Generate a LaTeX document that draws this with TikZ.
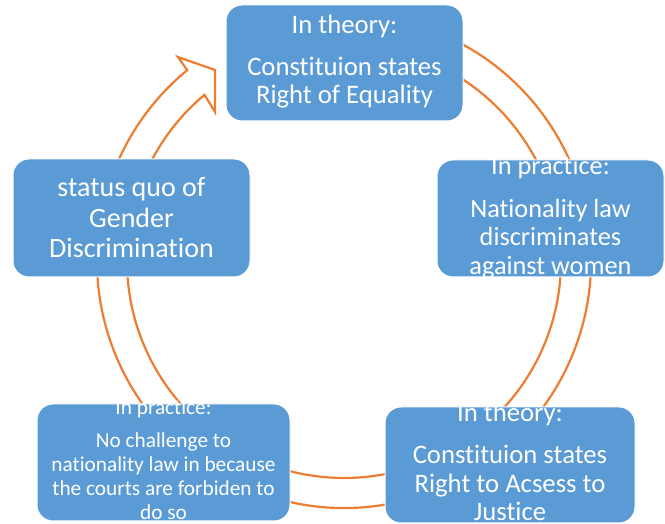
\documentclass[tikz,border=0pt]{standalone}
\usepackage{fontspec}
\setmainfont{Carlito}[Ligatures={NoCommon}]
\usetikzlibrary{calc}
\definecolor{boxblue}{HTML}{5B9BD5}
\definecolor{ringorange}{HTML}{ED7D31}
\begin{document}
\begin{tikzpicture}[x=1pt,y=1pt,
  box/.style={rectangle, rounded corners=16pt, fill=boxblue, draw=white, line width=1pt, inner sep=0pt},
  txt/.style={text=white, align=center, inner sep=0pt},
  ring/.style={draw=ringorange, line width=2.2pt, line join=miter}]
\useasboundingbox (0,0) rectangle (665,524);
\coordinate (C) at (344,263);
\coordinate (ob) at (178,467);
\coordinate (tip) at (215,454);
\coordinate (ib) at (215,412);
\coordinate (ie) at ($(C)+(130:217)$);
\draw[ring] (C) ++(110:247) arc[start angle=110,end angle=-230.6,radius=247]
  -- (ob) -- (tip) -- (ib) -- (ie) arc[start angle=-230,end angle=110,radius=217];
% boxes
\node[box, minimum width=237pt, minimum height=116pt] (top) at (344.5,461) {};
\node[box, minimum width=227pt, minimum height=117pt] (right) at (550.5,305.5) {};
\node[box, minimum width=237pt, minimum height=118pt] (left) at (131.5,306) {};
\node[box, minimum width=253pt, minimum height=117pt] (bl) at (163.5,61.5) {};
\node[box, minimum width=250pt, minimum height=116pt] (br) at (510,59) {};
% texts
\node[txt, font=\fontsize{26.7}{28}\selectfont] (toptxt) at ([yshift=1pt]top) {In theory:\\[14pt]Constituion states\\Right of Equality};
\node[txt, font=\fontsize{26.3}{28.5}\selectfont] (righttxt) at ([yshift=1pt]right) {In practice:\\[14pt]Nationality law\\discriminates\\against women};
\node[txt, font=\fontsize{28}{30.5}\selectfont] (lefttxt) at (left) {status quo of\\Gender\\Discrimination};
\node[txt, font=\fontsize{21.3}{24}\selectfont] (bltxt) at ([yshift=3pt]bl) {In practice:\\[9pt]No challenge to\\nationality law in because\\the courts are forbiden to\\do so};
\node[txt, font=\fontsize{26.7}{28.5}\selectfont] (brtxt) at ([yshift=3pt]br) {In theory:\\[14pt]Constituion states\\Right to Acsess to\\Justice};
\end{tikzpicture}
\end{document}
